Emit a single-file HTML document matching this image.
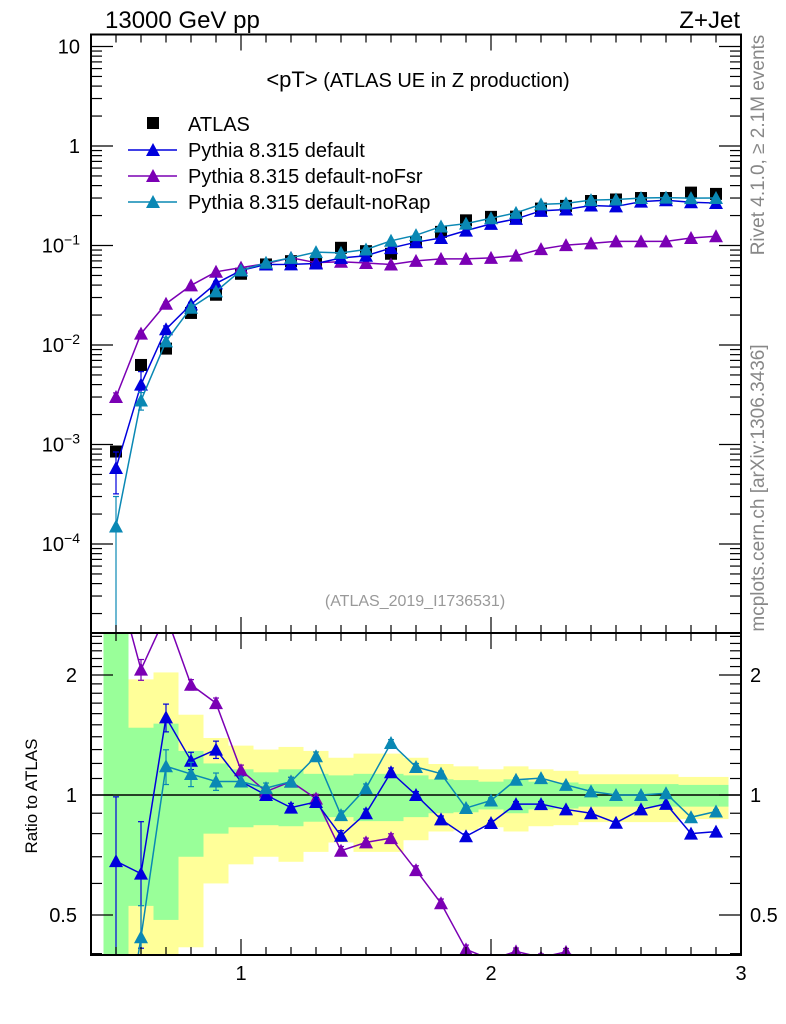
<!DOCTYPE html>
<html><head><meta charset="utf-8"><style>
html,body{margin:0;padding:0;background:#fff;width:786px;height:1024px;overflow:hidden}
svg{display:block;font-family:"Liberation Sans",sans-serif}
</style></head><body>
<svg id="c" width="786" height="1024" viewBox="0 0 786 1024">
<defs>
<clipPath id="cpTop"><rect x="91" y="34" width="650" height="599"/></clipPath>
<clipPath id="cpRat"><rect x="91" y="633" width="650" height="322"/></clipPath>
</defs>
<g id="bands" clip-path="url(#cpRat)"></g>
<g id="marks"></g>
<g id="axes"></g>
<text x="105" y="28" font-size="24">13000 GeV pp</text>
<text x="740" y="28" font-size="24" text-anchor="end">Z+Jet</text>
<text x="418" y="87" font-size="20" text-anchor="middle"><tspan font-size="22">&lt;pT&gt;</tspan> (ATLAS UE in Z production)</text>
<text x="415" y="606" font-size="16" fill="#999" text-anchor="middle">(ATLAS_2019_I1736531)</text>
<text transform="translate(764,145) rotate(-90)" font-size="19" fill="#888" text-anchor="middle">Rivet 4.1.0, ≥ 2.1M events</text>
<text transform="translate(764,488) rotate(-90)" font-size="19" fill="#888" text-anchor="middle">mcplots.cern.ch [arXiv:1306.3436]</text>
<text transform="translate(37,796) rotate(-90)" font-size="17" text-anchor="middle">Ratio to ATLAS</text>
<g id="legend"></g>
</svg>
<script>
const xs=[0.5,0.6,0.7,0.8,0.9,1.0,1.1,1.2,1.3,1.4,1.5,1.6,1.7,1.8,1.9,2.0,2.1,2.2,2.3,2.4,2.5,2.6,2.7,2.8,2.9];
const atlas=[8.5e-4,6.3e-3,9.2e-3,0.021,0.032,0.052,0.0645,0.0696,0.0686,0.0948,0.0877,0.0826,0.108,0.137,0.179,0.194,0.195,0.235,0.25,0.28,0.29,0.30,0.30,0.34,0.33];
const pyDefault=[5.8e-4,4.0e-3,0.0144,0.0256,0.0416,0.0562,0.0645,0.0647,0.0659,0.0749,0.0789,0.0942,0.108,0.119,0.141,0.165,0.185,0.223,0.23,0.252,0.247,0.276,0.285,0.272,0.267];
const pyNoFsr=[3.0e-3,0.013,0.026,0.0397,0.0544,0.060,0.0658,0.0752,0.0672,0.0687,0.0667,0.0644,0.070,0.0733,0.0734,0.075,0.079,0.092,0.101,0.105,0.11,0.11,0.11,0.119,0.124];
const pyNoRap=[1.5e-4,2.77e-3,0.01086,0.0237,0.0346,0.0562,0.0671,0.0752,0.0858,0.0844,0.0912,0.1115,0.127,0.155,0.166,0.188,0.213,0.259,0.265,0.286,0.29,0.30,0.303,0.299,0.30];
const errDefault=[0.45,0.35,0.08,0.05,0.05,0.03,0.03,0.025,0.025,0.03,0.025,0.025,0.02,0.02,0.015,0.015,0.015,0.015,0.01,0.01,0.01,0.01,0.01,0.01,0.01];
const errNoFsr=[0.1,0.06,0.04,0.03,0.03,0.03,0.025,0.025,0.025,0.025,0.025,0.025,0.025,0.025,0.025,0.02,0.02,0.02,0.02,0.01,0.01,0.01,0.01,0.01,0.01];
const errNoRap=[1.0,0.2,0.1,0.07,0.05,0.03,0.03,0.025,0.025,0.025,0.025,0.02,0.02,0.015,0.015,0.015,0.01,0.01,0.01,0.01,0.01,0.01,0.01,0.01,0.01];
const statUp=[3,1.475,1.51,1.29,1.2,1.16,1.14,1.16,1.13,1.12,1.13,1.13,1.12,1.095,1.09,1.08,1.095,1.08,1.075,1.065,1.065,1.065,1.065,1.06,1.06];
const statDn=[0.3,0.527,0.486,0.70,0.80,0.83,0.84,0.835,0.857,0.88,0.86,0.86,0.88,0.90,0.905,0.92,0.90,0.92,0.925,0.935,0.935,0.935,0.935,0.935,0.935];
const totUp=[3,1.95,2.03,1.59,1.39,1.33,1.30,1.32,1.29,1.24,1.27,1.27,1.24,1.196,1.18,1.16,1.18,1.16,1.15,1.127,1.127,1.127,1.127,1.11,1.11];
const totDn=[0.3,0.3,0.3,0.415,0.60,0.67,0.70,0.68,0.72,0.76,0.72,0.72,0.77,0.81,0.815,0.83,0.81,0.835,0.84,0.855,0.855,0.855,0.855,0.87,0.87];
const NS='http://www.w3.org/2000/svg';
const X=x=>91+(x-0.4)*250;
const YT=v=>146-99.5*Math.log10(v);
const YR=r=>795-120*Math.log2(r);
function mk(tag,attrs,parent){const e=document.createElementNS(NS,tag);for(const k in attrs)e.setAttribute(k,attrs[k]);parent.appendChild(e);return e;}
const bands=document.getElementById('bands'),marks=document.getElementById('marks'),axes=document.getElementById('axes'),legend=document.getElementById('legend');
xs.forEach((x,i)=>{
 let r=mk('rect',{x:X(x-0.05),y:YR(totUp[i]),width:25,height:YR(totDn[i])-YR(totUp[i]),fill:'#ffff99'},bands);
 
 
 let g=mk('rect',{x:X(x-0.05),y:YR(statUp[i]),width:25,height:YR(statDn[i])-YR(statUp[i]),fill:'#99ff99'},bands);
 
 
});
const gTop=mk('g',{'clip-path':'url(#cpTop)'},marks);
const gRat=mk('g',{'clip-path':'url(#cpRat)'},marks);
mk('line',{x1:91,x2:741,y1:YR(1),y2:YR(1),stroke:'#000','stroke-width':1.5},gRat);
xs.forEach((x,i)=>{
 let s=mk('rect',{x:X(x)-6,y:YT(atlas[i])-6,width:12,height:12,fill:'#000'},gTop);
 
 
});
function tri(cx,cy,col,p){return mk('polygon',{points:`${cx-7},${cy+6} ${cx+7},${cy+6} ${cx},${cy-7}`,fill:col},p);}
function series(vals,errs,col,name){
 const pt=xs.map((x,i)=>`${X(x)},${YT(vals[i])}`).join(' ');
 let l=mk('polyline',{points:pt,fill:'none',stroke:col,'stroke-width':1.5},gTop);
 
 
 const pr=xs.map((x,i)=>`${X(x)},${YR(vals[i]/atlas[i])}`).join(' ');
 let l2=mk('polyline',{points:pr,fill:'none',stroke:col,'stroke-width':1.5},gRat);
 
 
 xs.forEach((x,i)=>{
  const v=vals[i],e=errs[i],cx=X(x);
  const lo=Math.max(v*(1-e),1e-7),hi=v*(1+e);
  [[gTop,YT(hi),YT(lo),YT(v)],[gRat,YR(hi/atlas[i]),YR(lo/atlas[i]),YR(v/atlas[i])]].forEach(([p,y1,y2,yc])=>{
   mk('line',{x1:cx,x2:cx,y1:y1,y2:y2,stroke:col,'stroke-width':1.2},p);
   mk('line',{x1:cx-3,x2:cx+3,y1:y1,y2:y1,stroke:col,'stroke-width':1.2},p);
   mk('line',{x1:cx-3,x2:cx+3,y1:y2,y2:y2,stroke:col,'stroke-width':1.2},p);
   let t=tri(cx,yc,col,p);
   
   
  });
 });
}
series(pyNoFsr,errNoFsr,'#7b00b4','pythia-nofsr');
series(pyDefault,errDefault,'#0000dd','pythia-default');
series(pyNoRap,errNoRap,'#0a88b4','pythia-norap');
mk('rect',{x:91,y:34.5,width:650,height:598.5,fill:'none',stroke:'#000','stroke-width':2},axes);
mk('rect',{x:91,y:633,width:650,height:322,fill:'none',stroke:'#000','stroke-width':2},axes);
function tk(x1,y1,x2,y2){mk('line',{x1,y1,x2,y2,stroke:'#000','stroke-width':1.2},axes);}
for(let k=5;k<=29;k++){const x=X(k/10),maj=k%10==0,L=maj?16:8;
 tk(x,34.5,x,34.5+L);tk(x,633,x,633-L);tk(x,633,x,633+L);tk(x,955,x,955-L);}
[1,2,3].forEach(v=>{let t=mk('text',{x:X(v),y:980,'font-size':20,'text-anchor':'middle'},axes);t.textContent=v;
 });
for(let d=-5;d<=1;d++){for(let m=1;m<=9;m++){const v=m*Math.pow(10,d),y=YT(v);if(y<35||y>633)continue;
 const L=m==1?22:11;tk(91,y,91+L,y);tk(741,y,741-L,y);}}
const topLabels=[['10',10,''],['1',1,''],['10',0.1,'−1'],['10',0.01,'−2'],['10',0.001,'−3'],['10',0.0001,'−4']];
topLabels.forEach(([s,v,ex])=>{const t=mk('text',{x:80,y:YT(v)+7,'font-size':20,'text-anchor':'end'},axes);
 if(ex){t.innerHTML='10<tspan dy="-8" font-size="14">'+ex+'</tspan>';}else t.textContent=s;
 });
const rt=[0.4,0.5,0.6,0.7,0.8,0.9,1,1.1,1.2,1.3,1.4,1.5,1.6,1.7,1.8,1.9,2,2.1,2.2,2.3,2.4,2.5];
rt.forEach(v=>{const y=YR(v);if(y<634||y>954)return;const maj=(v==0.5||v==1||v==2),L=maj?22:11;tk(91,y,91+L,y);tk(741,y,741-L,y);});
[['2',2],['1',1],['0.5',0.5]].forEach(([s,v])=>{
 let t=mk('text',{x:77,y:YR(v)+7,'font-size':20,'text-anchor':'end'},axes);t.textContent=s;
 
 let t2=mk('text',{x:750,y:YR(v)+7,'font-size':20},axes);t2.textContent=s;
 });
mk('rect',{x:147,y:117,width:12,height:12,fill:'#000'},legend);
const lt=[['ATLAS',124],['Pythia 8.315 default',150],['Pythia 8.315 default-noFsr',176],['Pythia 8.315 default-noRap',202]];
const lc=[null,'#0000dd','#7b00b4','#0a88b4'];
lt.forEach(([s,y],i)=>{let t=mk('text',{x:188,y:y+7,'font-size':20},legend);t.textContent=s;
 
 if(lc[i]){mk('line',{x1:128,x2:177,y1:y,y2:y,stroke:lc[i],'stroke-width':1.5},legend);tri(153,y,lc[i],legend);}});
</script>
</body></html>
